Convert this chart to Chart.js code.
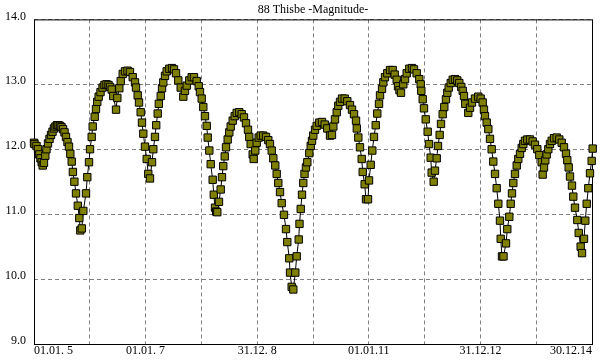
<!DOCTYPE html>
<html>
<head>
<meta charset="utf-8">
<script src="https://cdn.jsdelivr.net/npm/chart.js@4/dist/chart.umd.min.js"></script>
<style>
  body { margin: 0; background: #fff; }
</style>
</head>
<body>
<canvas id="thisbe" width="600" height="360"></canvas>
<script>
// 88 Thisbe - magnitude, 01.01.2005 .. 30.12.2014
// time in years since 01.01.2005
const tYears = [
  0.000, 0.009, 0.045, 0.072, 0.095, 0.116, 0.138, 0.156, 0.179, 0.203,
  0.224, 0.251, 0.278, 0.305, 0.332, 0.358, 0.385, 0.412, 0.439, 0.466,
  0.493, 0.520, 0.547, 0.573, 0.600, 0.627, 0.651, 0.676, 0.697, 0.724,
  0.753, 0.785, 0.812, 0.830, 0.857, 0.884, 0.932, 0.955, 0.986, 1.004,
  1.034, 1.052, 1.088, 1.111, 1.134, 1.159, 1.192, 1.228, 1.263, 1.299,
  1.335, 1.362, 1.392, 1.421, 1.470, 1.493, 1.529, 1.554, 1.590, 1.631,
  1.676, 1.720, 1.769, 1.810, 1.828, 1.858, 1.882, 1.912, 1.935, 1.959,
  1.989, 2.020, 2.048, 2.079, 2.115, 2.138, 2.168, 2.190, 2.217, 2.237,
  2.271, 2.294, 2.317, 2.348, 2.378, 2.425, 2.473, 2.509, 2.545, 2.586,
  2.629, 2.676, 2.706, 2.737, 2.783, 2.826, 2.867, 2.916, 2.952, 2.975,
  3.005, 3.034, 3.064, 3.095, 3.113, 3.142, 3.167, 3.202, 3.222, 3.244,
  3.265, 3.285, 3.315, 3.346, 3.369, 3.392, 3.418, 3.441, 3.471, 3.500,
  3.525, 3.561, 3.597, 3.633, 3.679, 3.722, 3.763, 3.799, 3.835, 3.858,
  3.883, 3.919, 3.937, 3.966, 3.991, 4.027, 4.063, 4.109, 4.158, 4.199,
  4.229, 4.260, 4.289, 4.324, 4.349, 4.378, 4.409, 4.439, 4.480, 4.516,
  4.539, 4.575, 4.588, 4.618, 4.647, 4.683, 4.708, 4.744, 4.758, 4.780,
  4.803, 4.826, 4.848, 4.874, 4.898, 4.934, 4.959, 4.982, 5.005, 5.036,
  5.066, 5.113, 5.161, 5.210, 5.256, 5.305, 5.340, 5.364, 5.394, 5.425,
  5.453, 5.484, 5.520, 5.568, 5.615, 5.663, 5.699, 5.735, 5.771, 5.785,
  5.812, 5.842, 5.873, 5.891, 5.926, 5.950, 5.986, 6.004, 6.034, 6.063,
  6.093, 6.124, 6.152, 6.183, 6.201, 6.237, 6.260, 6.290, 6.332, 6.380,
  6.428, 6.464, 6.500, 6.523, 6.550, 6.577, 6.618, 6.649, 6.679, 6.726,
  6.774, 6.810, 6.858, 6.905, 6.930, 6.941, 6.966, 6.989, 7.020, 7.055,
  7.079, 7.109, 7.127, 7.163, 7.186, 7.217, 7.240, 7.270, 7.294, 7.324,
  7.353, 7.383, 7.407, 7.432, 7.468, 7.504, 7.545, 7.586, 7.622, 7.658,
  7.683, 7.706, 7.729, 7.783, 7.814, 7.849, 7.903, 7.962, 8.005, 8.041,
  8.064, 8.082, 8.113, 8.142, 8.172, 8.202, 8.231, 8.262, 8.292, 8.321,
  8.351, 8.364, 8.387, 8.414, 8.459, 8.482, 8.518, 8.543, 8.566, 8.590,
  8.620, 8.651, 8.679, 8.710, 8.740, 8.769, 8.799, 8.840, 8.889, 8.937,
  8.978, 9.020, 9.056, 9.098, 9.116, 9.140, 9.163, 9.188, 9.217, 9.247,
  9.278, 9.319, 9.367, 9.414, 9.457, 9.498, 9.534, 9.557, 9.582, 9.606,
  9.641, 9.665, 9.695, 9.737, 9.762, 9.797, 9.821, 9.857, 9.880, 9.905,
  9.934, 9.964, 9.994, 10.012
];

const magnitudes = [
  12.10, 12.08, 12.05, 12.00, 11.92, 11.86, 11.80, 11.75, 11.79, 11.90,
  12.00, 12.09, 12.16, 12.22, 12.27, 12.32, 12.35, 12.37, 12.37, 12.36,
  12.34, 12.31, 12.26, 12.19, 12.11, 12.04, 11.93, 11.81, 11.65, 11.50,
  11.32, 11.13, 10.94, 10.75, 10.78, 11.05, 11.32, 11.57, 11.80, 12.00,
  12.19, 12.35, 12.50, 12.62, 12.73, 12.81, 12.88, 12.95, 12.99, 13.00,
  12.99, 12.96, 12.92, 12.82, 12.61, 12.79, 12.94, 13.05, 13.16, 13.20,
  13.21, 13.19, 13.11, 13.03, 12.95, 12.83, 12.72, 12.57, 12.41, 12.24,
  12.04, 11.85, 11.62, 11.55, 11.80, 12.00, 12.19, 12.37, 12.55, 12.70,
  12.82, 12.94, 13.03, 13.13, 13.20, 13.24, 13.25, 13.23, 13.17, 13.06,
  12.95, 12.81, 12.90, 12.98, 13.06, 13.11, 13.11, 13.05, 12.97, 12.88,
  12.78, 12.65, 12.51, 12.36, 12.18, 11.98, 11.77, 11.53, 11.30, 11.10,
  11.04, 11.03, 11.19, 11.38, 11.57, 11.74, 11.89, 12.03, 12.15, 12.26,
  12.35, 12.44, 12.51, 12.56, 12.57, 12.54, 12.49, 12.40, 12.30, 12.19,
  12.08, 11.92, 11.85, 11.98, 12.10, 12.18, 12.21, 12.21, 12.19, 12.14,
  12.08, 11.98, 11.86, 11.75, 11.62, 11.48, 11.34, 11.17, 10.99, 10.77,
  10.57, 10.32, 10.10, 9.88, 9.84, 10.10, 10.35, 10.61, 10.85, 11.08,
  11.30, 11.48, 11.62, 11.72, 11.80, 11.94, 12.05, 12.13, 12.21, 12.30,
  12.36, 12.41, 12.42, 12.38, 12.32, 12.21, 12.22, 12.35, 12.46, 12.57,
  12.67, 12.73, 12.78, 12.78, 12.74, 12.68, 12.61, 12.54, 12.44, 12.32,
  12.18, 12.03, 11.85, 11.65, 11.46, 11.23, 11.23, 11.52, 11.76, 11.98,
  12.19, 12.37, 12.55, 12.70, 12.83, 12.93, 13.03, 13.11, 13.17, 13.22,
  13.22, 13.15, 13.07, 12.97, 12.91, 12.87, 13.00, 13.08, 13.17, 13.24,
  13.25, 13.23, 13.17, 13.08, 13.00, 12.90, 12.77, 12.63, 12.46, 12.27,
  12.08, 11.87, 11.64, 11.50, 11.67, 11.86, 12.05, 12.22, 12.39, 12.54,
  12.65, 12.77, 12.87, 12.95, 13.02, 13.07, 13.08, 13.06, 13.02, 12.96,
  12.90, 12.82, 12.70, 12.56, 12.64, 12.72, 12.78, 12.81, 12.78, 12.72,
  12.61, 12.51, 12.41, 12.31, 12.16, 12.00, 11.81, 11.62, 11.40, 11.16,
  10.90, 10.62, 10.35, 10.35, 10.55, 10.77, 10.96, 11.16, 11.32, 11.48,
  11.62, 11.75, 11.85, 11.93, 12.02, 12.08, 12.13, 12.15, 12.15, 12.12,
  12.07, 12.00, 11.91, 11.80, 11.61, 11.72, 11.83, 11.92, 12.00, 12.08,
  12.13, 12.17, 12.18, 12.15, 12.10, 12.03, 11.93, 11.83, 11.72, 11.58,
  11.44, 11.27, 11.10, 10.91, 10.71, 10.50, 10.40, 10.62, 10.90, 11.16,
  11.40, 11.63, 11.82, 12.01
];

const xTickLabels = ['01.01. 5', '', '01.01. 7', '', '31.12. 8', '', '01.01.11', '', '31.12.12', '', '30.12.14'];
const yTickLabels = ['9.0', '10.0', '11.0', '12.0', '13.0', '14.0'];

const serif = '"Liberation Serif", "Times New Roman", serif';

// black box round the plot area
const frame = {
    id: 'frame',
    beforeDatasetsDraw(chart) {
        const { ctx, chartArea: a } = chart;
        ctx.save();
        ctx.strokeStyle = '#000';
        ctx.lineWidth = 1;
        ctx.strokeRect(a.left + 0.5, a.top + 0.5, a.right - a.left, a.bottom - a.top);
        ctx.restore();
    },
};

const canvas = document.querySelector('#thisbe');

const chart = new Chart(canvas, {
    type: 'line',
    data: {
        datasets: [
            {
                label: 'Magnitude',
                data: tYears.map((t, i) => ({ x: t, y: magnitudes[i] })),
                borderColor: '#000',
                borderWidth: 1,
                tension: 0,
                pointStyle: 'rect',
                pointRadius: 5.2,
                pointBackgroundColor: '#808000',
                pointBorderColor: '#000',
                pointBorderWidth: 1,
                clip: false,
            },
        ],
    },
    options: {
        responsive: false,
        animation: false,
        events: [],
        layout: { padding: { left: 0, right: 8, top: 0, bottom: 0 } },
        plugins: {
            legend: { display: false },
            tooltip: { enabled: false },
            title: {
                display: true,
                text: '88 Thisbe -Magnitude-',
                color: '#000',
                fullSize: false,
                font: { family: serif, size: 12, weight: 'normal', lineHeight: 1.2 },
                padding: { top: 3, bottom: 2 },
            },
        },
        scales: {
            x: {
                type: 'linear',
                min: 0,
                max: 10,
                afterFit: (s) => { s.height = 16; },
                ticks: {
                    stepSize: 1,
                    autoSkip: false,
                    maxRotation: 0,
                    align: 'inner',
                    padding: 0,
                    color: '#000',
                    font: { family: serif, size: 12 },
                    callback: (v, i) => xTickLabels[i],
                },
                grid: { color: '#808080', lineWidth: 1, drawTicks: false },
                border: { display: false, dash: [4, 3] },
            },
            y: {
                min: 9,
                max: 14,
                afterFit: (s) => { s.width = 34; },
                ticks: {
                    stepSize: 1,
                    padding: 8,
                    labelOffset: -3,
                    color: '#000',
                    font: { family: serif, size: 12 },
                    callback: (v, i) => yTickLabels[i],
                },
                grid: { color: '#808080', lineWidth: 1, drawTicks: false },
                border: { display: false, dash: [4, 3] },
            },
        },
    },
    plugins: [frame],
});
</script>
</body>
</html>
